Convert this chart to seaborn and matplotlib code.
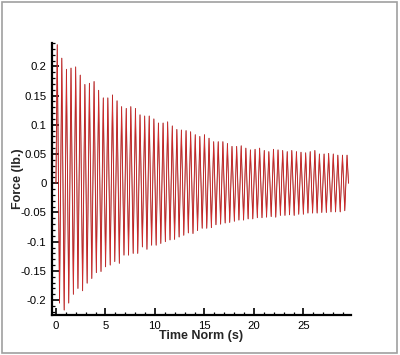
import numpy as np
import pandas as pd
import matplotlib
matplotlib.use("Agg")
import matplotlib.pyplot as plt
from matplotlib.ticker import MultipleLocator
from matplotlib.patches import Rectangle
import seaborn as sns

# ---- data ----
peak_t = [0.13, 0.59, 1.06, 1.52, 1.99, 2.45, 2.92, 3.38, 3.85, 4.31, 4.78, 5.24,
          5.71, 6.17, 6.63, 7.10, 7.56, 8.03, 8.49, 8.96, 9.42, 9.89, 10.35, 10.82,
          11.28, 11.75, 12.21, 12.67, 13.14, 13.60, 14.07, 14.53, 15.00, 15.46,
          15.93, 16.39, 16.86, 17.32, 17.78, 18.25, 18.71, 19.18, 19.64, 20.11,
          20.57, 21.04, 21.50, 21.97, 22.43, 22.90, 23.36, 23.82, 24.29, 24.75,
          25.22, 25.68, 26.15, 26.61, 27.08, 27.54, 28.01, 28.47, 28.94, 29.40]
peak_v = [0.237, 0.214, 0.195, 0.197, 0.199, 0.185, 0.169, 0.171, 0.174, 0.159,
          0.146, 0.146, 0.151, 0.141, 0.131,
          0.128, 0.131, 0.128, 0.117, 0.115, 0.115, 0.110, 0.103, 0.103, 0.105,
          0.098, 0.092, 0.091, 0.090, 0.088, 0.083,
          0.080, 0.083, 0.077, 0.071, 0.071, 0.071, 0.068, 0.063, 0.063, 0.064,
          0.060, 0.057, 0.058, 0.060, 0.056, 0.054,
          0.058, 0.057, 0.056, 0.054, 0.056, 0.054, 0.053, 0.052, 0.054, 0.056,
          0.050, 0.050, 0.051, 0.050, 0.048, 0.048, 0.048]
trough_t = [0.36, 0.83, 1.29, 1.76, 2.22, 2.69, 3.15, 3.62, 4.08, 4.55, 5.01, 5.48,
            5.94, 6.40, 6.87, 7.33, 7.80, 8.26, 8.73, 9.19, 9.66, 10.12, 10.59,
            11.05, 11.52, 11.98, 12.44, 12.91, 13.37, 13.84, 14.30, 14.77, 15.23,
            15.70, 16.16, 16.63, 17.09, 17.55, 18.02, 18.48, 18.95, 19.41, 19.88,
            20.34, 20.81, 21.27, 21.74, 22.20, 22.67, 23.13, 23.59, 24.06, 24.52,
            24.99, 25.45, 25.92, 26.38, 26.85, 27.31, 27.78, 28.24, 28.71, 29.17]
trough_v = [-0.205, -0.217, -0.205, -0.190, -0.180, -0.184, -0.171, -0.163, -0.153,
            -0.151, -0.143, -0.140, -0.134, -0.137, -0.123,
            -0.123, -0.120, -0.120, -0.109, -0.113, -0.106, -0.106, -0.103, -0.100,
            -0.097, -0.096, -0.092, -0.089, -0.085, -0.086, -0.081,
            -0.077, -0.077, -0.076, -0.071, -0.070, -0.068, -0.067, -0.065, -0.063,
            -0.063, -0.061, -0.061, -0.059, -0.059, -0.058, -0.057, -0.058, -0.055,
            -0.055, -0.054, -0.055, -0.053, -0.053, -0.051, -0.051, -0.051, -0.050,
            -0.050, -0.049, -0.049, -0.049, -0.047]
start_point = (0.0, 0.0)
end_point = (29.55, 0.0)

x_ticks = [0, 5, 10, 15, 20, 25]
y_ticks = [-0.2, -0.15, -0.1, -0.05, 0, 0.05, 0.1, 0.15, 0.2]
y_tick_labels = ["-0.2", "-0.15", "-0.1", "-0.05", "0", "0.05", "0.1", "0.15", "0.2"]

# build the series (alternating peaks / troughs)
t_all = [start_point[0]]
v_all = [start_point[1]]
for i in range(len(peak_t)):
    t_all.append(peak_t[i]); v_all.append(peak_v[i])
    if i < len(trough_t):
        t_all.append(trough_t[i]); v_all.append(trough_v[i])
t_all.append(end_point[0]); v_all.append(end_point[1])
df = pd.DataFrame({"t": t_all, "f": v_all})

sns.set_style("ticks")
plt.rcParams["font.family"] = ["Liberation Sans", "DejaVu Sans"]

fig = plt.figure(figsize=(4.0, 3.55), dpi=100)
ax = fig.add_axes([0.13, 0.1127, 0.7475, 0.7662])

sns.lineplot(data=df, x="t", y="f", ax=ax, color="#8a1818", linewidth=0.65,
             estimator=None, sort=False)
sns.lineplot(data=df, x="t", y="f", ax=ax, color="#e83030", linewidth=0.4,
             alpha=0.9, estimator=None, sort=False)

ax.set_xlim(-0.4, 29.8)
ax.set_ylim(-0.2255, 0.240)
ax.set_xticks(x_ticks)
ax.set_yticks(y_ticks)
ax.set_yticklabels(y_tick_labels)
ax.xaxis.set_minor_locator(MultipleLocator(1))
ax.yaxis.set_minor_locator(MultipleLocator(0.01))

for s in ["top", "right"]:
    ax.spines[s].set_visible(False)
for s in ["left", "bottom"]:
    ax.spines[s].set_linewidth(1.6)
    ax.spines[s].set_color("black")

ax.tick_params(which="major", direction="in", length=5, width=1.2,
               labelsize=8.2, pad=4, colors="black")
ax.tick_params(which="minor", direction="in", length=2.5, width=0.9, colors="black")

ax.set_xlabel("Time Norm (s)", fontsize=9, fontweight="bold", labelpad=-0.5)
ax.set_ylabel("Force (lb.)", fontsize=9, fontweight="bold", labelpad=-2.5)

fig.patches.append(Rectangle((1.5 / 400, 2 / 355), 395 / 400, 351 / 355,
                             transform=fig.transFigure, fill=False,
                             edgecolor="#a0a0a0", linewidth=1.2))

fig.savefig("out.png", dpi=100)
